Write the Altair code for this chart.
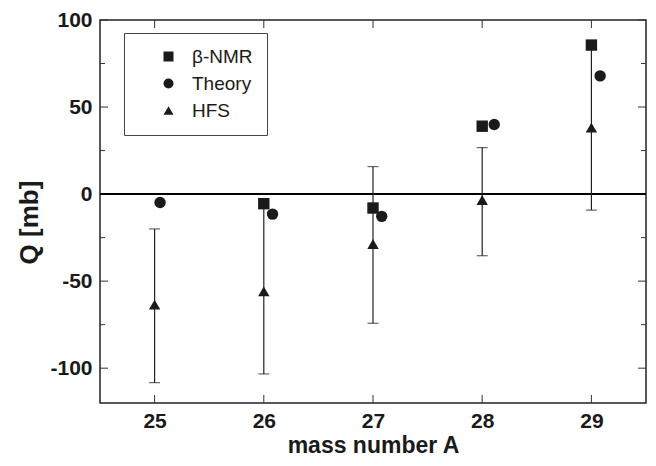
import altair as alt
import pandas as pd

# ---- data ----
series = ["β-NMR", "Theory", "HFS"]
shapes = ["square", "circle", "triangle-up"]

bnmr_A = [26, 27, 28, 29]
bnmr_Q = [-5.5, -8.0, 39.0, 85.6]

theory_A = [25.05, 26.08, 27.08, 28.11, 29.08]
theory_Q = [-4.8, -11.5, -12.8, 40.0, 67.9]

hfs_A = [25, 26, 27, 28, 29]
hfs_Q = [-63.5, -55.9, -28.7, -3.4, 38.2]
hfs_lo = [-108.3, -103.3, -74.2, -35.4, -9.2]
hfs_hi = [-20.0, -8.0, 15.8, 26.7, 85.0]

x_ticks = [25, 26, 27, 28, 29]
y_major = [-100, -50, 0, 50, 100]
y_minor = [-75, -25, 25, 75]
zero = [0]

# ---- tables ----
pts = pd.concat([
    pd.DataFrame({"A": bnmr_A, "Q": bnmr_Q, "s": series[0]}),
    pd.DataFrame({"A": theory_A, "Q": theory_Q, "s": series[1]}),
    pd.DataFrame({"A": hfs_A, "Q": hfs_Q, "s": series[2]}),
], ignore_index=True)
err = pd.DataFrame({"A": hfs_A, "Q": hfs_lo, "Q2": hfs_hi})
caps = pd.DataFrame({"A": hfs_A + hfs_A, "Q": hfs_lo + hfs_hi})
xt = pd.DataFrame({"A": x_ticks})
ymaj = pd.DataFrame({"Q": y_major})
ymin = pd.DataFrame({"Q": y_minor})
z = pd.DataFrame({"Q": zero})

W, H = 546, 383
FONT = "Liberation Sans"
INK = "#1a1a1a"

xscale = alt.Scale(domain=[24.5, 29.5], nice=False, zero=False)
yscale = alt.Scale(domain=[-120, 100], nice=False, zero=False)
xaxis = alt.Axis(values=x_ticks, labelExpr="'' + datum.value", ticks=False,
                 domain=False, grid=False,
                 labelFont=FONT, labelFontSize=21, labelFontWeight="bold",
                 labelColor=INK, labelPadding=7,
                 title="mass number A", titleFont=FONT, titleFontSize=23,
                 titleFontWeight="bold", titleColor=INK, titlePadding=3)
yaxis = alt.Axis(values=y_major, labelExpr="'' + datum.value", ticks=False,
                 domain=False, grid=False,
                 labelFont=FONT, labelFontSize=21, labelFontWeight="bold",
                 labelColor=INK, labelPadding=8,
                 title="Q [mb]", titleFont=FONT, titleFontSize=26,
                 titleFontWeight="bold", titleColor=INK, titlePadding=7,
                 titleY=202)

X = alt.X("A:Q", scale=xscale, axis=xaxis)
Y = alt.Y("Q:Q", scale=yscale, axis=yaxis)

tick_col = "#333333"
bot_ticks = alt.Chart(xt).mark_rule(color=tick_col, strokeWidth=1).encode(
    x=X, y=alt.value(H), y2=alt.value(H - 8))
top_ticks = alt.Chart(xt).mark_rule(color=tick_col, strokeWidth=1).encode(
    x=X, y=alt.value(0), y2=alt.value(8))
left_major = alt.Chart(ymaj).mark_rule(color=tick_col, strokeWidth=1).encode(
    y=Y, x=alt.value(0), x2=alt.value(8))
right_major = alt.Chart(ymaj).mark_rule(color=tick_col, strokeWidth=1).encode(
    y=Y, x=alt.value(W - 8), x2=alt.value(W))
left_minor = alt.Chart(ymin).mark_rule(color=tick_col, strokeWidth=1).encode(
    y=Y, x=alt.value(0), x2=alt.value(5))
right_minor = alt.Chart(ymin).mark_rule(color=tick_col, strokeWidth=1).encode(
    y=Y, x=alt.value(W - 5), x2=alt.value(W))

zero_line = alt.Chart(z).mark_rule(color="#000000", strokeWidth=2).encode(y=Y)

bars = alt.Chart(err).mark_rule(color="#222222", strokeWidth=1.2).encode(
    x=X, y=Y, y2="Q2:Q")
cap_marks = alt.Chart(caps).mark_tick(color="#222222", orient="horizontal",
                                      size=11, thickness=1.2).encode(x=X, y=Y)

points = alt.Chart(pts).mark_point(filled=True, size=130, opacity=1, color=INK,
                                   strokeWidth=0).encode(
    x=X, y=Y,
    shape=alt.Shape("s:N", scale=alt.Scale(domain=series, range=shapes),
                    legend=alt.Legend(orient="none", legendX=24, legendY=13,
                                      title=None, padding=14,
                                      strokeColor="#444444",
                                      symbolOffset=21, labelOffset=14,
                                      symbolSize=100, symbolFillColor=INK,
                                      symbolStrokeWidth=0,
                                      labelFont=FONT, labelFontSize=19,
                                      labelColor=INK, rowPadding=7)),
)

chart = alt.layer(
    bot_ticks, top_ticks, left_major, right_major, left_minor, right_minor,
    zero_line, bars, cap_marks, points,
).properties(
    width=W, height=H,
    autosize=alt.AutoSizeParams(type="none"),
    padding={"left": 92, "top": 12, "right": 2, "bottom": 55},
    background="white",
).configure_view(stroke="#222222", strokeWidth=1.5)

chart.save("out.html", embed_options={"renderer": "svg", "actions": False})
